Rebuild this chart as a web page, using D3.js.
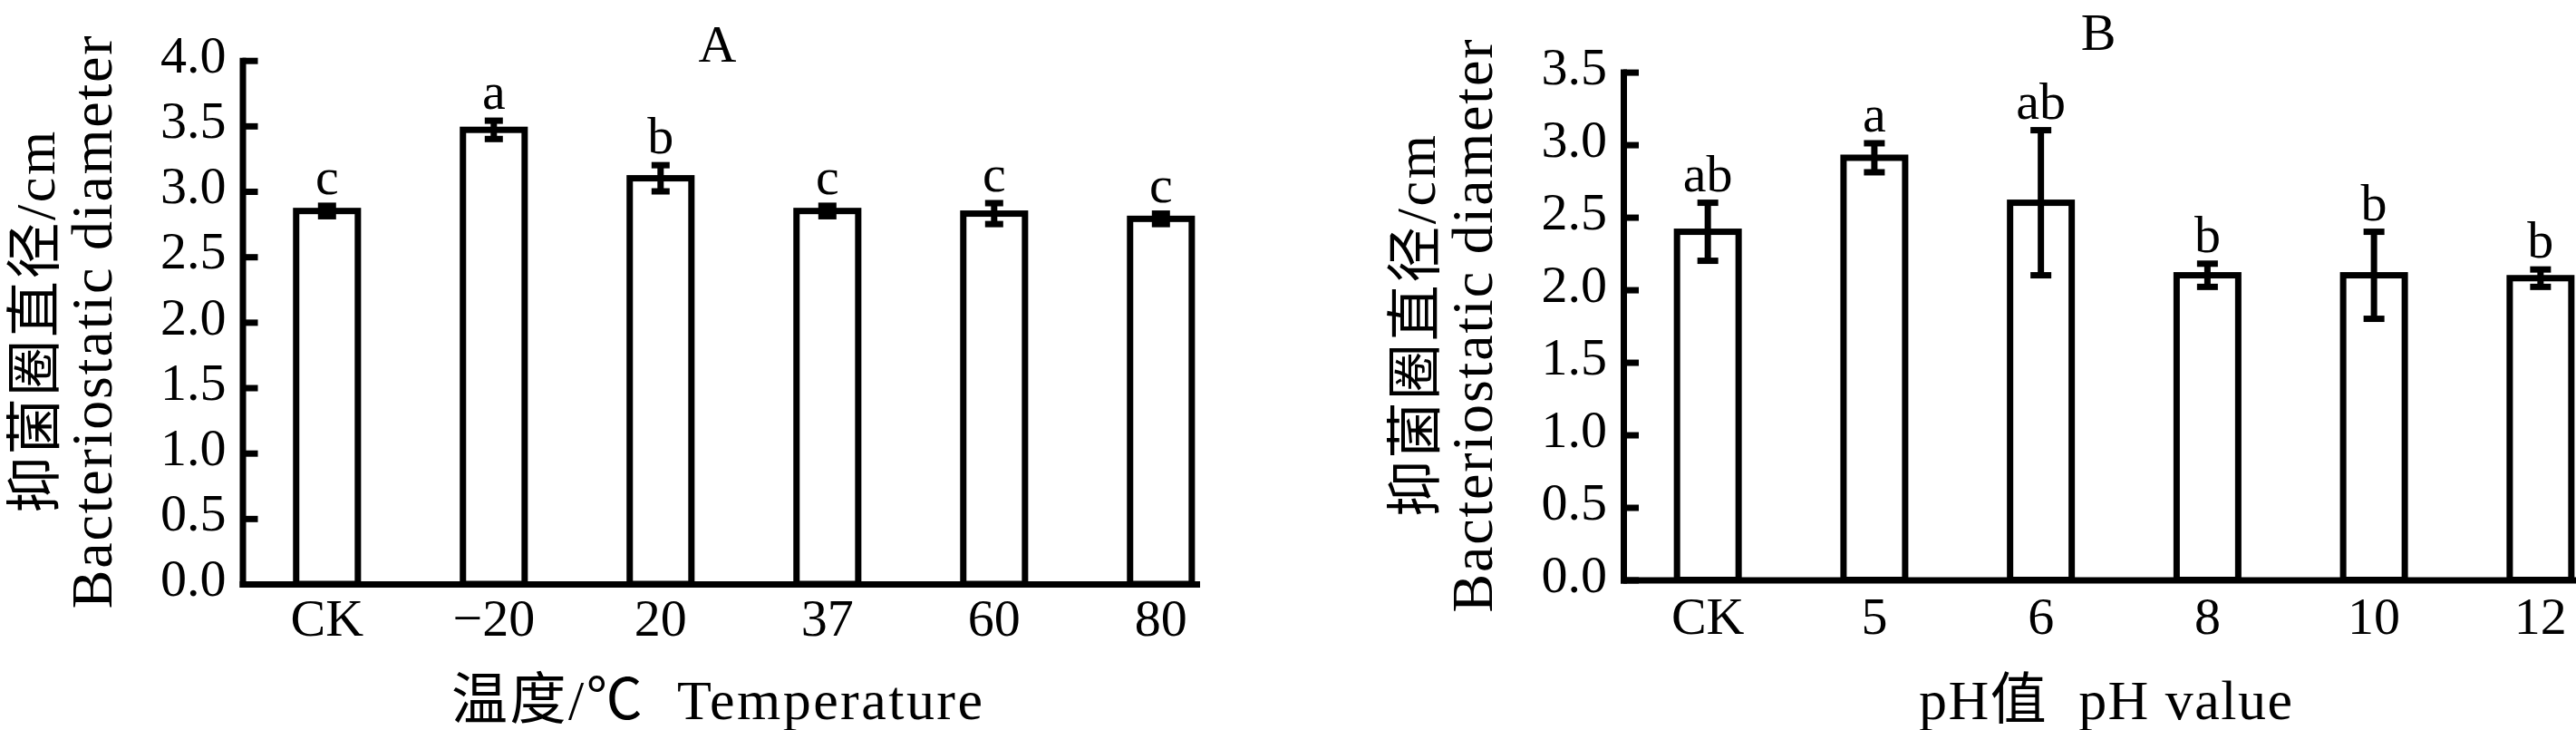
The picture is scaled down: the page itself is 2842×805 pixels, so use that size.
<!DOCTYPE html>
<html><head><meta charset="utf-8">
<script src="https://cdn.jsdelivr.net/npm/d3@7"></script>
<style>body{margin:0;background:#fff} svg{display:block}</style>
</head><body><svg id="chart" width="2842" height="805"></svg>
<script>
// ---------- data ----------
const tempCategories = ["CK", "\u221220", "20", "37", "60", "80"];
const tempMeans      = [2.85, 3.47, 3.10, 2.85, 2.83, 2.79];
const tempErrors     = [0.04, 0.07, 0.10, 0.04, 0.08, 0.04];
const tempLetters    = ["c", "a", "b", "c", "c", "c"];
const tempTicks      = [0, 0.5, 1.0, 1.5, 2.0, 2.5, 3.0, 3.5, 4.0];

const phCategories = ["CK", "5", "6", "8", "10", "12"];
const phMeans      = [2.40, 2.91, 2.60, 2.10, 2.10, 2.08];
const phErrors     = [0.20, 0.10, 0.50, 0.08, 0.30, 0.06];
const phLetters    = ["ab", "a", "ab", "b", "b", "b"];
const phTicks      = [0, 0.5, 1.0, 1.5, 2.0, 2.5, 3.0, 3.5];

const yTitleCN = "抑菌圈直径/cm";
const yTitleEN = "Bacteriostatic diameter";
const tempTitle = "温度/℃  Temperature";
const phTitle = "pH值  pH value";

// ---------- drawing ----------
const svg = d3.select("#chart");
svg.append("rect").attr("width", 2842).attr("height", 805).attr("fill", "#fff");
const serif = "'Liberation Serif','Times New Roman','Noto Sans CJK SC',serif";
const SW = 7;

function panel(cfg) {
  const g = svg.append("g");
  const x = d3.scaleBand().domain(cfg.cats).range([cfg.left, cfg.right])
    .paddingInner(0.63).paddingOuter(0.175).align(0.92);
  const y = d3.scaleLinear().domain([0, cfg.yMax]).range([cfg.bottom, cfg.top]);
  const data = cfg.cats.map((c, i) => ({c, m: cfg.means[i], e: cfg.errs[i], l: cfg.letters[i]}));

  // bars
  g.selectAll("rect.bar").data(data).join("rect").attr("class", "bar")
    .attr("x", d => x(d.c)).attr("y", d => y(d.m))
    .attr("width", x.bandwidth()).attr("height", d => y(0) - y(d.m))
    .attr("fill", "#fff").attr("stroke", "#000").attr("stroke-width", SW);

  // error bars
  const cx = d => x(d.c) + x.bandwidth() / 2;
  const eb = g.selectAll("g.err").data(data).join("g").attr("class", "err")
    .attr("stroke", "#000").attr("stroke-width", SW);
  eb.append("line").attr("x1", cx).attr("x2", cx)
    .attr("y1", d => y(d.m + d.e)).attr("y2", d => y(d.m - d.e));
  eb.append("line").attr("x1", d => cx(d) - cfg.cap / 2).attr("x2", d => cx(d) + cfg.cap / 2)
    .attr("y1", d => y(d.m + d.e)).attr("y2", d => y(d.m + d.e));
  eb.append("line").attr("x1", d => cx(d) - cfg.cap / 2).attr("x2", d => cx(d) + cfg.cap / 2)
    .attr("y1", d => y(d.m - d.e)).attr("y2", d => y(d.m - d.e));

  // significance letters
  g.selectAll("text.sig").data(data).join("text").attr("class", "sig")
    .attr("x", cx).attr("y", d => y(d.m + d.e) - 13)
    .attr("text-anchor", "middle").attr("font-family", serif).attr("font-size", 58)
    .text(d => d.l);

  // y axis
  const ya = d3.axisLeft(y).tickValues(cfg.ticks).tickFormat(d3.format(".1f"))
    .tickSizeInner(-17).tickSizeOuter(0).tickPadding(18);
  const yg = g.append("g").attr("transform", `translate(${cfg.left},0)`).call(ya);
  yg.attr("font-family", serif).attr("font-size", 58);
  yg.selectAll("path.domain").attr("stroke", "#000").attr("stroke-width", SW).attr("stroke-linecap", "square");
  yg.selectAll(".tick line").attr("stroke", "#000").attr("stroke-width", SW);
  yg.selectAll(".tick text").attr("fill", "#000").attr("dy", "0.22em");

  // x axis
  const xa = d3.axisBottom(x).tickSizeInner(0).tickSizeOuter(0).tickPadding(cfg.xPad);
  const xg = g.append("g").attr("transform", `translate(0,${cfg.bottom})`).call(xa);
  xg.attr("font-family", serif).attr("font-size", 58);
  xg.selectAll("path.domain").attr("stroke", "#000").attr("stroke-width", SW).attr("stroke-linecap", "square");
  xg.selectAll(".tick text").attr("fill", "#000");

  // y titles
  const midY = (cfg.top + cfg.bottom) / 2;
  g.append("text").attr("transform", `translate(${cfg.left - 208},${midY}) rotate(-90)`)
    .attr("text-anchor", "middle").attr("font-family", serif).attr("font-size", 62)
    .attr("textLength", 421).attr("lengthAdjust", "spacing").text(yTitleCN);
  g.append("text").attr("transform", `translate(${cfg.left - 145},${midY}) rotate(-90)`)
    .attr("text-anchor", "middle").attr("font-family", serif).attr("font-size", 64)
    .attr("textLength", 632).attr("lengthAdjust", "spacing").text(yTitleEN);

  // x title
  g.append("text").attr("x", cfg.titleX).attr("y", 793)
    .attr("text-anchor", "middle").attr("font-family", serif).attr("font-size", 62)
    .attr("textLength", cfg.titleLen).attr("lengthAdjust", "spacing")
    .style("white-space", "pre").text(cfg.title);

  // panel label
  g.append("text").attr("x", cfg.labelX).attr("y", cfg.labelY)
    .attr("text-anchor", "middle").attr("font-family", serif).attr("font-size", 58)
    .text(cfg.label);
}

panel({cats: tempCategories, means: tempMeans, errs: tempErrors, letters: tempLetters,
  ticks: tempTicks, yMax: 4.0, left: 267.5, right: 1320, bottom: 644, top: 66.7,
  cap: 20, xPad: 16, title: tempTitle, titleX: 791, titleLen: 586,
  label: "A", labelX: 791.5, labelY: 68});

panel({cats: phCategories, means: phMeans, errs: phErrors, letters: phLetters,
  ticks: phTicks, yMax: 3.5, left: 1791, right: 2842, bottom: 639.5, top: 79.6,
  cap: 23, xPad: 18, title: phTitle, titleX: 2323, titleLen: 412,
  label: "B", labelX: 2315, labelY: 55});
</script>
</body></html>
